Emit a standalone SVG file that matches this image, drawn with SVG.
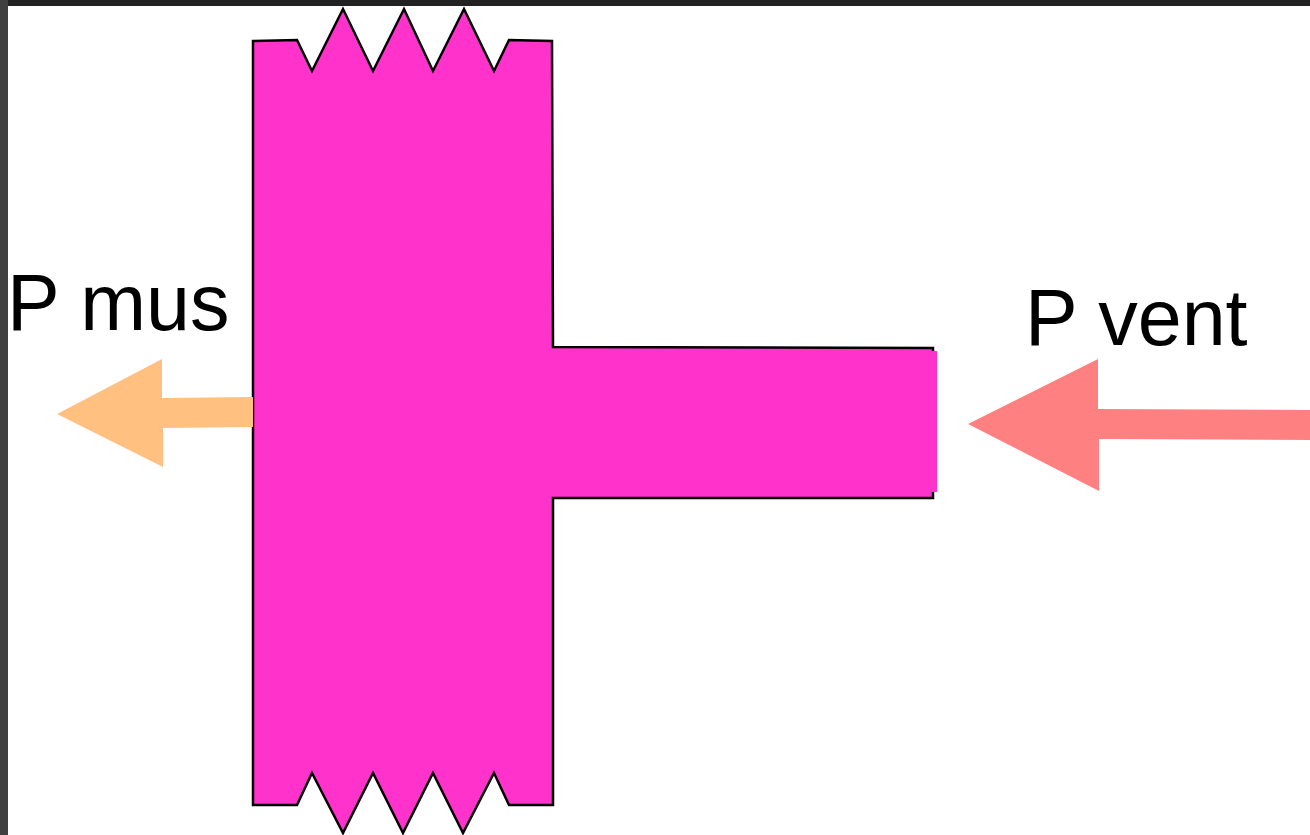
<svg xmlns="http://www.w3.org/2000/svg" width="1310" height="835" viewBox="0 0 1310 835">
<style>
.lbl{font-family:"Liberation Sans",Arial,sans-serif;font-size:79px;fill:#000}
.body{fill:#ff33cc;stroke:#000;stroke-width:2.5;stroke-linejoin:miter}
</style>
<rect x="0" y="0" width="1310" height="835" fill="#ffffff"/>
<rect x="0" y="0" width="1310" height="6" fill="#222222"/>
<rect x="0" y="0" width="8" height="835" fill="#404040"/>
<g id="tube">
<path class="body" d="M253,41 L297,40 L312,71 L343,9 L373,71 L404,9 L433,71 L464,9 L494,71 L509,40 L552,41 L553,347 L933,348 L933,498 L553,498 L553,805 L509,805 L494,773 L463,833 L433,773 L403,833 L373,773 L343,833 L312,773 L297,805 L253,805 Z"/>
<rect x="520" y="351" width="417" height="141" fill="#ff33cc"/>
</g>
<g id="connectors">
<path id="arrow-mus" d="M253,397 L162,398 L162,359 L57,414 L163,467 L163,428 L253,427 Z" fill="#ffc080"/>
<path id="arrow-vent" d="M1310,410 L1098,409 L1098,359 L968,424 L1099,491 L1099,439 L1310,440 Z" fill="#ff8080"/>
</g>
<g id="label-mus"><text class="lbl" x="7" y="330">P mus</text></g>
<g id="label-vent"><text class="lbl" x="1025" y="345">P vent</text></g>
</svg>
